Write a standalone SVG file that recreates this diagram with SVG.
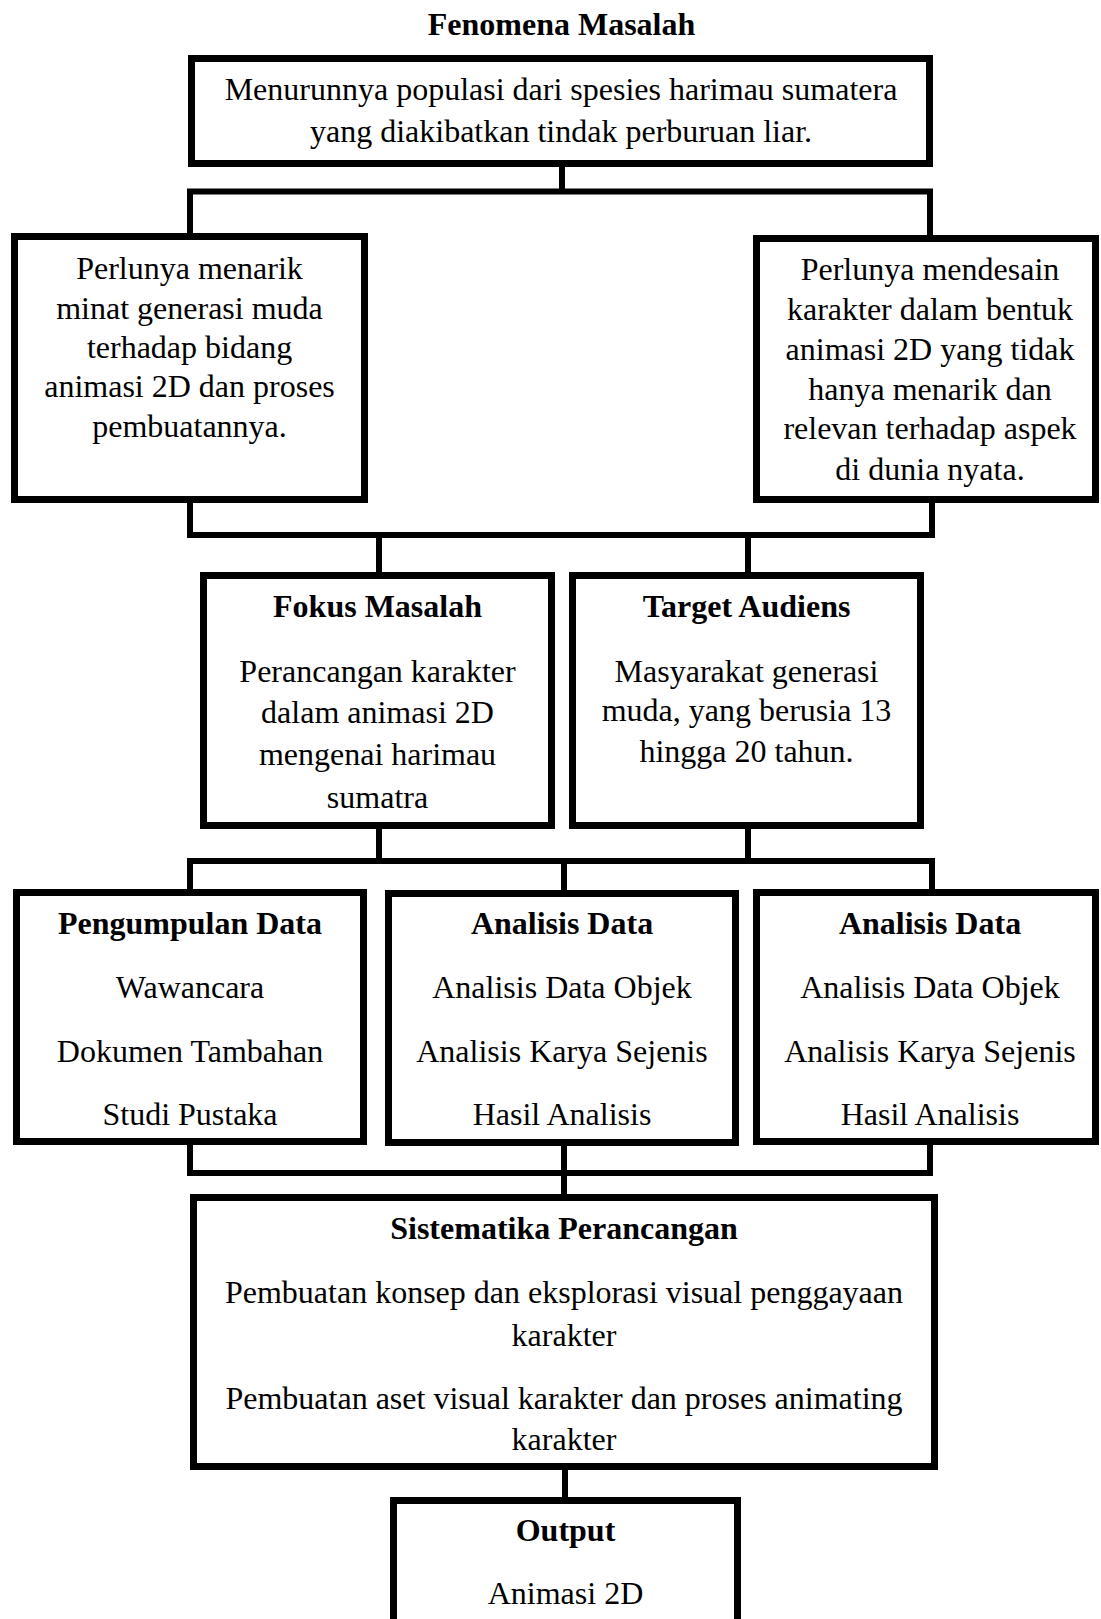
<svg xmlns="http://www.w3.org/2000/svg" width="1101" height="1619" viewBox="0 0 1101 1619">
<style>
.box{fill:#fff;stroke:#000;stroke-width:7}
.con{fill:none;stroke:#000;stroke-width:6}
text{font-family:"Liberation Serif","Times New Roman",serif;font-size:32px;fill:#000;text-anchor:middle}
.b{font-weight:bold}
</style>
<rect width="1101" height="1619" fill="#fff"/>
<g id="connectors">
<path class="con" d="M562,167 V191.5"/>
<path class="con" d="M190,233 V191.5 H930 V235"/>
<path class="con" d="M190,503 V535 H932 V503"/>
<path class="con" d="M379,535 V572"/>
<path class="con" d="M748,535 V572"/>
<path class="con" d="M379,829 V861"/>
<path class="con" d="M748,829 V861"/>
<path class="con" d="M190,889 V861 H932 V889"/>
<path class="con" d="M564,861 V890"/>
<path class="con" d="M190,1145 V1173 H930 V1145"/>
<path class="con" d="M564,1146 V1194"/>
<path class="con" d="M565,1470 V1497"/>
</g>
<g id="title"><text class="b" x="561.5" y="35">Fenomena Masalah</text></g>
<g id="fenomena">
<rect class="box" x="191.5" y="58.5" width="738" height="105"/>
<text x="561" y="100">Menurunnya populasi dari spesies harimau sumatera</text>
<text x="561" y="142">yang diakibatkan tindak perburuan liar.</text>
</g>
<g id="perlu-menarik">
<rect class="box" x="14.5" y="236.5" width="350" height="263"/>
<text x="189.5" y="279">Perlunya menarik</text>
<text x="189.5" y="318.5">minat generasi muda</text>
<text x="189.5" y="358">terhadap bidang</text>
<text x="189.5" y="397.4">animasi 2D dan proses</text>
<text x="189.5" y="436.7">pembuatannya.</text>
</g>
<g id="perlu-mendesain">
<rect class="box" x="756.5" y="238.5" width="339" height="261"/>
<text x="930" y="280">Perlunya mendesain</text>
<text x="930" y="320">karakter dalam bentuk</text>
<text x="930" y="359.8">animasi 2D yang tidak</text>
<text x="930" y="399.6">hanya menarik dan</text>
<text x="930" y="439.4">relevan terhadap aspek</text>
<text x="930" y="479.5">di dunia nyata.</text>
</g>
<g id="fokus">
<rect class="box" x="203.5" y="575.5" width="348" height="250"/>
<text class="b" x="377.5" y="617">Fokus Masalah</text>
<text x="377.5" y="681.5">Perancangan karakter</text>
<text x="377.5" y="723">dalam animasi 2D</text>
<text x="377.5" y="765">mengenai harimau</text>
<text x="377.5" y="808">sumatra</text>
</g>
<g id="target">
<rect class="box" x="572.5" y="575.5" width="348" height="250"/>
<text class="b" x="746.5" y="617">Target Audiens</text>
<text x="746.5" y="682">Masyarakat generasi</text>
<text x="746.5" y="721">muda, yang berusia 13</text>
<text x="746.5" y="762">hingga 20 tahun.</text>
</g>
<g id="pengumpulan">
<rect class="box" x="16.5" y="892.5" width="347" height="249"/>
<text class="b" x="190" y="933.5">Pengumpulan Data</text>
<text x="190" y="997.5">Wawancara</text>
<text x="190" y="1061.5">Dokumen Tambahan</text>
<text x="190" y="1124.5">Studi Pustaka</text>
</g>
<g id="analisis-1">
<rect class="box" x="388.5" y="893.5" width="347" height="249"/>
<text class="b" x="562" y="933.5">Analisis Data</text>
<text x="562" y="997.5">Analisis Data Objek</text>
<text x="562" y="1061.5">Analisis Karya Sejenis</text>
<text x="562" y="1124.5">Hasil Analisis</text>
</g>
<g id="analisis-2">
<rect class="box" x="756.5" y="892.5" width="339" height="249"/>
<text class="b" x="930" y="933.5">Analisis Data</text>
<text x="930" y="997.5">Analisis Data Objek</text>
<text x="930" y="1061.5">Analisis Karya Sejenis</text>
<text x="930" y="1124.5">Hasil Analisis</text>
</g>
<g id="sistematika">
<rect class="box" x="193.5" y="1197.5" width="741" height="269"/>
<text class="b" x="564" y="1238.5">Sistematika Perancangan</text>
<text x="564" y="1302.5">Pembuatan konsep dan eksplorasi visual penggayaan</text>
<text x="564" y="1346">karakter</text>
<text x="564" y="1409">Pembuatan aset visual karakter dan proses animating</text>
<text x="564" y="1450">karakter</text>
</g>
<g id="output">
<rect class="box" x="393.5" y="1500.5" width="344" height="200"/>
<text class="b" x="565.5" y="1540.5">Output</text>
<text x="565.5" y="1604">Animasi 2D</text>
</g>
</svg>
